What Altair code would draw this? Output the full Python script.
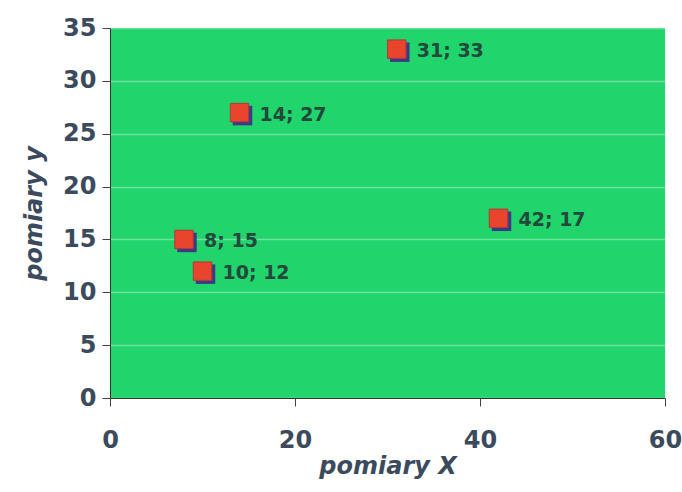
import altair as alt
import pandas as pd

xs = [8, 10, 14, 31, 42]
ys = [15, 12, 27, 33, 17]
labels = ["8; 15", "10; 12", "14; 27", "31; 33", "42; 17"]

df = pd.DataFrame({"x": xs, "y": ys, "label": labels})

FONT = "DejaVu Sans"
AXC = "#3b4a5c"

xsc = alt.Scale(domain=[0, 60], nice=False)
ysc = alt.Scale(domain=[0, 35], nice=False)

base = alt.Chart(df)

shadow = base.mark_square(size=380, color="#3c3a86", opacity=1, xOffset=3, yOffset=3).encode(
    x=alt.X("x:Q", scale=xsc,
            axis=alt.Axis(values=[0, 20, 40, 60], title="pomiary X", grid=False,
                          labelFont=FONT, labelFontSize=24, labelFontWeight="bold", labelColor=AXC,
                          titleFont=FONT, titleFontSize=24, titleFontWeight="bold", titleFontStyle="italic",
                          titleColor=AXC, titlePadding=2, labelPadding=22, tickSize=8,
                          tickColor="#444", domainColor="#333", labelFlush=False)),
    y=alt.Y("y:Q", scale=ysc,
            axis=alt.Axis(values=[0, 5, 10, 15, 20, 25, 30, 35], title="pomiary y", grid=True,
                          gridColor="#ffffff", gridOpacity=0.35, gridWidth=1.5,
                          labelFont=FONT, labelFontSize=24, labelFontWeight="bold", labelColor=AXC,
                          titleFont=FONT, titleFontSize=24, titleFontWeight="bold", titleFontStyle="italic",
                          titleColor=AXC, titlePadding=16, labelPadding=6, tickSize=8,
                          tickColor="#444", domainColor="#333", labelFlush=False)),
)

pts = base.mark_square(size=340, color="#e8452c", opacity=1, stroke="#b03a3a", strokeWidth=1).encode(
    x=alt.X("x:Q", scale=xsc), y=alt.Y("y:Q", scale=ysc)
)

txt = base.mark_text(align="left", baseline="middle", dx=20, dy=2, font=FONT, fontSize=19,
                     fontWeight="bold", color="#22493c").encode(
    x=alt.X("x:Q", scale=xsc), y=alt.Y("y:Q", scale=ysc), text="label:N"
)

chart = alt.layer(shadow, pts, txt).properties(
    width=555, height=370,
    autosize=alt.AutoSizeParams(type="none"),
    padding={"left": 110, "top": 28, "right": 17, "bottom": 94},
    background="#ffffff",
).configure_view(fill="#21d46b", stroke=None)

chart.save("out.html", embed_options={"renderer": "svg", "actions": False})
